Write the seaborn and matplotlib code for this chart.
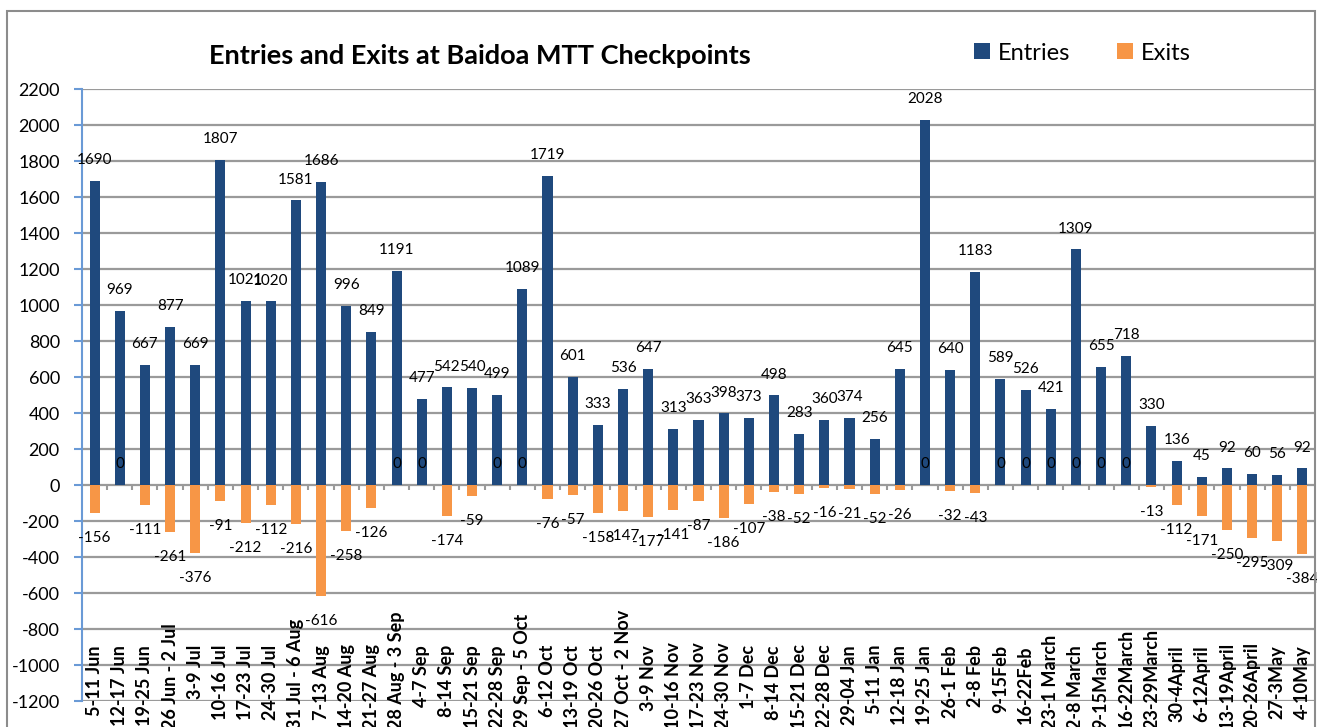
import pandas as pd
import matplotlib.pyplot as plt
import seaborn as sns
from matplotlib.patches import Rectangle
from matplotlib.transforms import blended_transform_factory

# weekly periods at the Baidoa MTT checkpoints
periods = [
    "5-11 Jun", "12-17 Jun", "19-25 Jun", "26 Jun - 2 Jul", "3-9 Jul", "10-16 Jul",
    "17-23 Jul", "24-30 Jul", "31 Jul - 6 Aug", "7-13 Aug", "14-20 Aug", "21-27 Aug",
    "28 Aug - 3 Sep", "4-7 Sep", "8-14 Sep", "15-21 Sep", "22-28 Sep", "29 Sep - 5 Oct",
    "6-12 Oct", "13-19 Oct", "20-26 Oct", "27 Oct - 2 Nov", "3-9 Nov", "10-16 Nov",
    "17-23 Nov", "24-30 Nov", "1-7 Dec", "8-14 Dec", "15-21 Dec", "22-28 Dec",
    "29-04 Jan", "5-11 Jan", "12-18 Jan", "19-25 Jan", "26-1 Feb", "2-8 Feb",
    "9-15Feb", "16-22Feb", "23-1 March", "2-8 March", "9-15March", "16-22March",
    "23-29March", "30-4April", "6-12April", "13-19April", "20-26April", "27-3May",
    "4-10May",
]
entries = [
    1690, 969, 667, 877, 669, 1807, 1021, 1020, 1581, 1686, 996, 849,
    1191, 477, 542, 540, 499, 1089, 1719, 601, 333, 536, 647, 313,
    363, 398, 373, 498, 283, 360, 374, 256, 645, 2028, 640, 1183,
    589, 526, 421, 1309, 655, 718, 330, 136, 45, 92, 60, 56, 92,
]
exits = [
    -156, 0, -111, -261, -376, -91, -212, -112, -216, -616, -258, -126,
    0, 0, -174, -59, 0, 0, -76, -57, -158, -147, -177, -141,
    -87, -186, -107, -38, -52, -16, -21, -52, -26, 0, -32, -43,
    0, 0, 0, 0, 0, 0, -13, -112, -171, -250, -295, -309, -384,
]
y_ticks = list(range(-1200, 2201, 200))

df = pd.concat([
    pd.DataFrame({"period": periods, "series": "Entries", "value": entries}),
    pd.DataFrame({"period": periods, "series": "Exits", "value": exits}),
])

W, H = 1317, 727
fig = plt.figure(figsize=(W / 100, H / 100), dpi=100)
plt.rcParams['font.family'] = ['Lato', 'DejaVu Sans']
ax = fig.add_axes([82 / W, 1 - 701 / H, 1233 / W, 612 / H])

sns.barplot(data=df, x="period", y="value", hue="series", dodge=False, width=0.4,
            palette=["#1F497D", "#F79646"], saturation=1, ax=ax)

ax.set_ylim(-1200, 2200)
ax.set_xlim(-0.5, len(periods) - 0.5)
ax.set_yticks(y_ticks)
ax.set_yticklabels([str(v) for v in y_ticks], fontsize=13)
ax.set_xlabel("")
ax.set_ylabel("")
ax.set_xticks([])
ax.grid(axis='y', color='#9A9A9A', linewidth=1.6)
ax.set_axisbelow(True)
for s in ["top", "right", "bottom"]:
    ax.spines[s].set_visible(False)
ax.spines["left"].set_color("#6A9AD6")
ax.spines["left"].set_linewidth(1.5)
ax.tick_params(axis='y', length=6, width=1.5, color="#6A9AD6", pad=10)

# small tick marks on the zero line, between categories
bounds = [i + 0.5 for i in range(len(periods) - 1)]
ax.vlines(bounds, -30, 0, color="#9A9A9A", linewidth=1.5)

# data labels
for cont in ax.containers:
    for bar in cont:
        v = bar.get_height()
        xc = bar.get_x() + bar.get_width() / 2
        off = 15 if v >= 0 else -18
        ax.annotate(f"{v:.0f}", (xc, v), xytext=(0, off), textcoords="offset points",
                    ha="center", va="center", fontsize=11, color="black")

# category labels inside the bottom of the plot area
trans = blended_transform_factory(ax.transData, fig.transFigure)
cat_texts = []
for i, p in enumerate(periods):
    t = ax.text(i, 1 - 645 / H, p, transform=trans, rotation=90, ha="center", va="top",
                fontsize=13, fontweight="bold", clip_on=False)
    cat_texts.append(t)

ax.legend_.remove()
handles, labels = ax.get_legend_handles_labels()
fig.legend(handles, labels, loc="center left", bbox_to_anchor=(953 / W, 1 - 53 / H),
           ncol=2, frameon=False, fontsize=17, handlelength=0.65, handleheight=0.65,
           handletextpad=0.35, columnspacing=2.0)

fig.text(480 / W, 1 - 56 / H, "Entries and Exits at Baidoa MTT Checkpoints",
         ha="center", va="center", fontsize=19.5, fontweight="bold")

# chart border
fig.patches.append(Rectangle((7 / W, -0.05), 1308 / W, 1.05 - 11 / H, transform=fig.transFigure,
                             fill=False, edgecolor="#8C8C8C", linewidth=1.5))

# long labels get pushed up so they end near the bottom edge
fig.canvas.draw()
r = fig.canvas.get_renderer()
for t in cat_texts:
    bb = t.get_window_extent(r)
    if bb.y0 < -2:
        x, y = t.get_position()
        t.set_position((x, y + (-2 - bb.y0) / H))

plt.savefig("out.png", dpi=100)
